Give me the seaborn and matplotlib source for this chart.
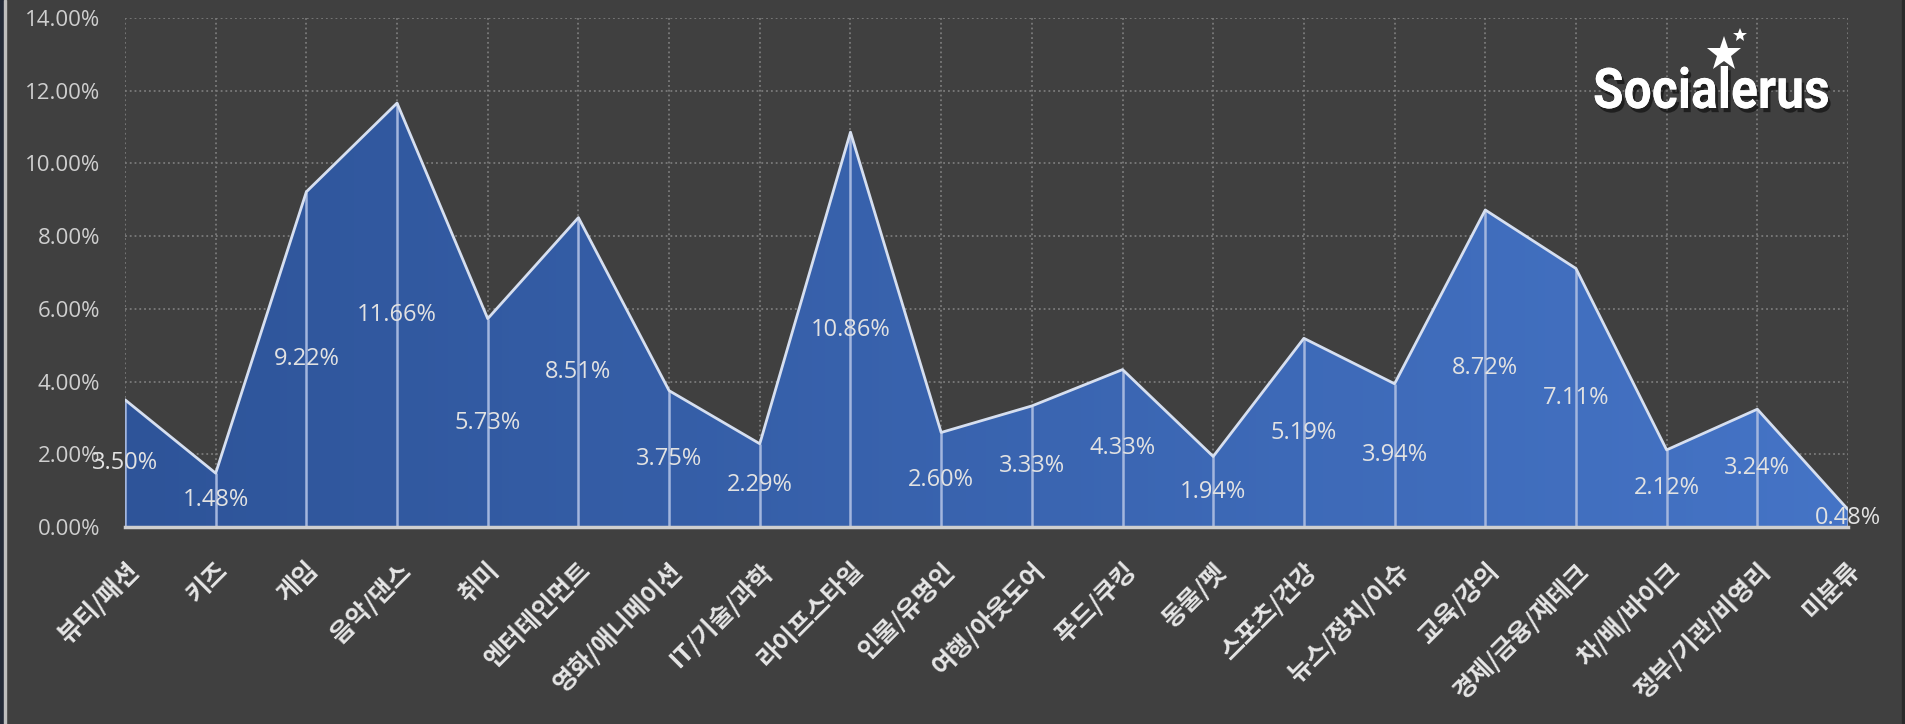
import numpy as np
import matplotlib.pyplot as plt
import matplotlib.patheffects as pe
import seaborn as sns
from matplotlib.colors import LinearSegmentedColormap
from matplotlib.patches import Rectangle, PathPatch
from matplotlib.lines import Line2D
from matplotlib.textpath import TextPath
from matplotlib.font_manager import FontProperties
from matplotlib.transforms import Affine2D

# categories and their share (%)
categories = ['뷰티/패션', '키즈', '게임', '음악/댄스', '취미', '엔터테인먼트',
              '영화/애니메이션', 'IT/기술/과학', '라이프스타일', '인물/유명인',
              '여행/아웃도어', '푸드/쿠킹', '동물/펫', '스포츠/건강', '뉴스/정치/이슈',
              '교육/강의', '경제/금융/재테크', '차/배/바이크', '정부/기관/비영리', '미분류']
shares = [3.50, 1.48, 9.22, 11.66, 5.73, 8.51, 3.75, 2.29, 10.86, 2.60,
          3.33, 4.33, 1.94, 5.19, 3.94, 8.72, 7.11, 2.12, 3.24, 0.48]
yticks = [0, 2, 4, 6, 8, 10, 12, 14]

bg = '#404040'
sns.set_theme(style='dark')
plt.rcParams['font.family'] = ['Open Sans', 'Noto Sans CJK KR', 'DejaVu Sans']

W, H = 1906, 724
fig = plt.figure(figsize=(W / 100, H / 100), dpi=100, facecolor=bg)
ax = fig.add_axes([125 / W, 1 - 527 / H, (1848 - 125) / W, (527 - 18) / H])
ax.set_facecolor(bg)

x = np.arange(len(categories))

# gradient area fill
cmap = LinearSegmentedColormap.from_list('blues', ['#2E5499', '#4574C6'])
poly = ax.fill_between(x, 0, shares, color='none', lw=0)
grad = ax.imshow(np.linspace(0, 1, 256).reshape(1, -1), cmap=cmap, aspect='auto',
                 extent=[0, len(x) - 1, 0, max(yticks)], origin='lower', zorder=2)
grad.set_clip_path(poly.get_paths()[0], transform=ax.transData)

ax.vlines(x, 0, shares, color='#A3B6DE', lw=1.8, zorder=3)
sns.lineplot(x=x, y=shares, color='#D6DFF0', lw=2, ax=ax, zorder=4)

for xi, v in zip(x, shares):
    ax.text(xi, v / 2, f'{v:.2f}%', ha='center', va='center', color='#E2E2E2',
            fontsize=17, zorder=5)

ax.set_xlim(0, len(x) - 1)
ax.set_ylim(0, max(yticks))
ax.set_yticks(yticks)
ax.set_yticklabels([f'{t:.2f}%' for t in yticks], color='#CFCFCF', fontsize=16)
ax.set_xticks(x)
ax.set_xticklabels(categories, rotation=45, ha='right', rotation_mode='anchor',
                   color='#E6E6E6', fontsize=18, fontweight='bold',
                   family=['Noto Sans CJK KR', 'DejaVu Sans'])
ax.tick_params(axis='y', length=0, pad=18)
ax.tick_params(axis='x', length=0, pad=22)

ax.grid(True, linestyle=':', color='#7A7A7A', lw=1.3)
ax.set_axisbelow(True)
for s in ['top', 'right', 'left']:
    ax.spines[s].set_visible(False)
ax.spines['bottom'].set_color('#CFCFCF')
ax.spines['bottom'].set_linewidth(2.5)
ax.spines['bottom'].set_zorder(6)

# frame edges
fig.patches.append(Rectangle((0, 0), 4 / W, 1, transform=fig.transFigure,
                             color='#232a38', zorder=0))
fig.patches.append(Rectangle((4 / W, 0), 2 / W, 1, transform=fig.transFigure,
                             color='#BDBDBD', zorder=0))
fig.patches.append(Rectangle((1902 / W, 0), 4 / W, 1, transform=fig.transFigure,
                             color='#2a2a2a', zorder=0))

# logo: narrow bold wordmark with stars (pixel coordinates)
shadow = [pe.withSimplePatchShadow(offset=(2, -3), shadow_rgbFace='black', alpha=0.5), pe.Normal()]
tp = TextPath((0, 0), 'Socialerus', size=56, prop=FontProperties(family='Roboto', weight='bold'))
logo = PathPatch(tp, transform=Affine2D().scale(0.89, 1).translate(1593, H - 108),
                 facecolor='white', edgecolor='none', path_effects=shadow)
fig.patches.append(logo)
fig.lines.append(Line2D([1724 / W], [1 - 54 / H], transform=fig.transFigure,
                        marker='*', markersize=26, color='white', markeredgewidth=0))
fig.lines.append(Line2D([1740 / W], [1 - 35 / H], transform=fig.transFigure,
                        marker='*', markersize=10, color='white', markeredgewidth=0))

fig.savefig('out.png', dpi=100, facecolor=bg)
